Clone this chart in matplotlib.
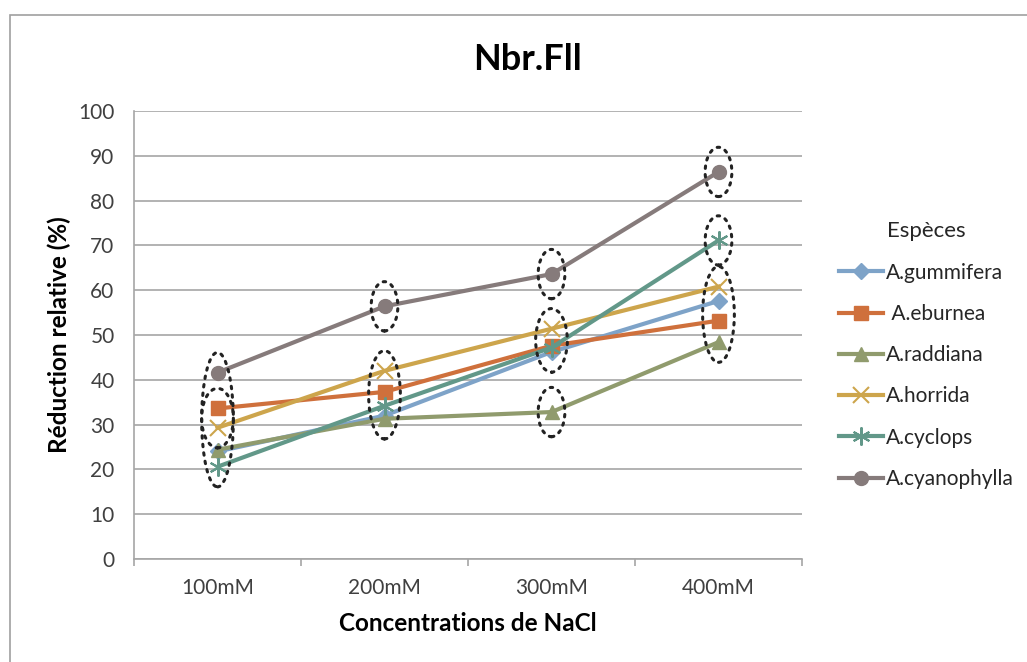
import matplotlib
matplotlib.use("Agg")
import matplotlib.pyplot as plt
from matplotlib.patches import Ellipse, Rectangle
import numpy as np

plt.rcParams['font.family'] = ['Lato', 'DejaVu Sans']

# Données
concentrations = ["100mM", "200mM", "300mM", "400mM"]
especes = ["A.gummifera", " A.eburnea", "A.raddiana", "A.horrida", "A.cyclops", "A.cyanophylla"]
gummifera = [24.0, 32.0, 46.2, 57.6]
eburnea = [33.6, 37.3, 47.6, 53.2]
raddiana = [24.4, 31.3, 32.8, 48.4]
horrida = [29.3, 42.0, 51.4, 60.8]
cyclops = [20.6, 34.2, 47.2, 71.1]
cyanophylla = [41.6, 56.4, 63.6, 86.4]

valeurs = [gummifera, eburnea, raddiana, horrida, cyclops, cyanophylla]
couleurs = ["#7EA3C8", "#CF703C", "#909B6D", "#CDA54C", "#629889", "#867B7B"]
marqueurs = ["D", "s", "^", "x", (6, 2, 0), "o"]
tailles = [8, 10, 10, 11, 13, 10]

# groupes entourés en pointillés : (indice concentration, indices espèces)
groupes = [
    (0, [0, 1, 2, 3, 4, 5]),
    (0, [1, 3]),
    (1, [5]),
    (1, [0, 1, 2, 3, 4]),
    (2, [5]),
    (2, [0, 1, 3, 4]),
    (2, [2]),
    (3, [5]),
    (3, [4]),
    (3, [0, 1, 2, 3]),
]

fig = plt.figure(figsize=(10.27, 6.62), dpi=100)
ax = fig.add_axes([134 / 1027, 103 / 662, 668 / 1027, 448 / 662])

x = np.arange(len(concentrations))
lignes = []
for nom, vals, c, m, t in zip(especes, valeurs, couleurs, marqueurs, tailles):
    mew = 1.5 if m in ("x", (6, 2, 0)) else 1
    l, = ax.plot(x, vals, color=c, lw=3, marker=m, markersize=t,
                 markeredgewidth=mew, markeredgecolor=c, label=nom, zorder=3)
    lignes.append(l)

# ellipses pointillées
for ic, idx in groupes:
    pts = [valeurs[i][ic] for i in idx]
    lo, hi = min(pts), max(pts)
    pad = 5.5 if len(idx) == 1 else 4.5
    w = 0.16 if len(idx) == 1 else 0.19
    e = Ellipse((x[ic], (lo + hi) / 2), w, hi - lo + 2 * pad, fill=False,
                edgecolor="#222222", lw=2.2, linestyle=(0, (0.8, 2.0)),
                capstyle="round", zorder=4)
    ax.add_patch(e)

ax.set_xlim(-0.5, len(concentrations) - 0.5)
ax.set_ylim(0, 100)
ax.set_yticks(np.arange(0, 101, 10))
ax.set_xticks(x)
ax.set_xticklabels(concentrations)
ax.set_xticks(np.arange(-0.5, len(concentrations), 1), minor=True)
ax.yaxis.grid(True, color="#A6A6A6", lw=1.2)
ax.set_axisbelow(True)

for s in ["top", "right"]:
    ax.spines[s].set_visible(False)
for s in ["left", "bottom"]:
    ax.spines[s].set_color("#A6A6A6")
    ax.spines[s].set_linewidth(1.2)

ax.tick_params(axis="y", length=0, pad=14, labelsize=15, labelcolor="#404040")
ax.tick_params(axis="x", which="major", length=0, pad=14, labelsize=15, labelcolor="#404040")
ax.tick_params(axis="x", which="minor", length=5, width=1.2, color="#A6A6A6")

ax.set_xlabel("Concentrations de NaCl", fontsize=17.5, fontweight="bold", labelpad=10)
ax.set_ylabel("Réduction relative (%)", fontsize=17.5, fontweight="bold", labelpad=5)
fig.text(527 / 1027, 1 - 59 / 662, "Nbr.Fll", fontsize=26, fontweight="bold",
         ha="center", va="center")

leg = ax.legend(handles=lignes, title="Espèces", loc="upper left",
                bbox_to_anchor=(831 / 1027, 1 - 213 / 662), bbox_transform=fig.transFigure,
                frameon=False, fontsize=15, title_fontsize=16,
                handlelength=2.1, handletextpad=0.12, labelspacing=1.02,
                borderaxespad=0)
leg.get_title().set_color("#262626")
for t in leg.get_texts():
    t.set_color("#262626")

# cadre du graphique
fig.patches.append(Rectangle((10 / 1027, -0.1), 1.2, 1 - 15 / 662 + 0.1,
                             transform=fig.transFigure, fill=False,
                             edgecolor="#A0A0A0", lw=1.2))

fig.savefig("out.png", dpi=100)
